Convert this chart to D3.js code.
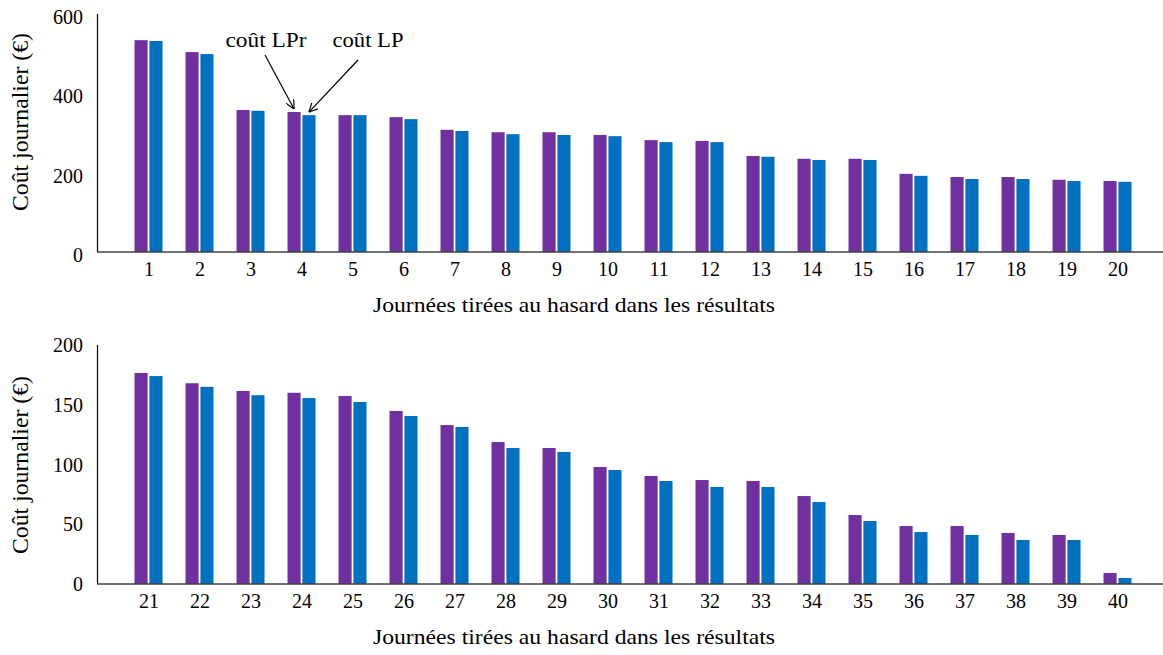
<!DOCTYPE html>
<html>
<head>
<meta charset="utf-8">
<script src="https://cdn.jsdelivr.net/npm/d3@7"></script>
<style>
  html, body { margin: 0; padding: 0; background: #fff; }
  svg { display: block; }
  text { font-family: "Liberation Serif", "Times New Roman", serif; fill: #000; }
</style>
</head>
<body>
<script>
// ---- DATA ----
const days1 = ["1","2","3","4","5","6","7","8","9","10","11","12","13","14","15","16","17","18","19","20"];
const lpr1 = [534, 504, 358, 353, 345, 340, 308, 302, 302, 295, 282, 280, 242, 235, 235, 197, 189, 189, 182, 179];
const lp1  = [532, 499, 356, 345, 345, 335, 305, 297, 295, 292, 277, 277, 240, 232, 232, 192, 184, 184, 179, 177];

const days2 = ["21","22","23","24","25","26","27","28","29","30","31","32","33","34","35","36","37","38","39","40"];
const lpr2 = [176.6, 168, 161.5, 160, 157.3, 144.8, 133, 118.8, 113.8, 97.9, 90.4, 87, 86.2, 73.6, 57.7, 48.5, 48.5, 42.7, 41, 9.2];
const lp2  = [174, 165, 158, 155.6, 152.3, 140.6, 131.4, 113.8, 110.5, 95.4, 86.2, 81.2, 81.2, 68.6, 52.7, 43.5, 41, 36.8, 36.8, 5];

const yTicks1 = [0, 200, 400, 600];
const yTicks2 = [0, 50, 100, 150, 200];

const seriesNames = ["coût LPr", "coût LP"];
const seriesColors = ["#7030A0", "#0070C0"];
const yTitle = "Coût journalier (€)";
const xTitle = "Journées tirées au hasard dans les résultats";

// ---- LAYOUT ----
const W = 1163, H = 655;
const FONT = '"Liberation Serif", "Times New Roman", serif';
const svg = d3.select("body").append("svg").attr("width", W).attr("height", H);

function drawPanel(cfg) {
  const g = svg.append("g");
  const x = d3.scaleBand().domain(cfg.days)
    .range([97, 97 + 51 * 21.04]).paddingOuter(0.52).paddingInner(0);
  const x1 = d3.scaleBand().domain(seriesNames).range([-14.5, 13.5]).paddingInner(0.12);
  const y = d3.scaleLinear().domain([0, cfg.yMax]).range([cfg.base, cfg.top]);

  const rows = cfg.days.map((d, i) => ({ day: d, vals: [cfg.lpr[i], cfg.lp[i]] }));
  const grp = g.selectAll("g.cat").data(rows).join("g")
    .attr("transform", d => `translate(${x(d.day) + x.bandwidth() / 2},0)`);
  grp.selectAll("rect").data(d => d.vals.map((v, k) => ({ k, v }))).join("rect")
    .attr("x", d => x1(seriesNames[d.k]))
    .attr("width", x1.bandwidth())
    .attr("y", d => y(d.v))
    .attr("height", d => y(0) - y(d.v))
    .attr("fill", d => seriesColors[d.k]);

  // y axis labels
  const ya = d3.axisLeft(y).tickValues(cfg.yTicks).tickSize(0).tickPadding(0);
  const yg = g.append("g").attr("transform", "translate(83,0)").call(ya);
  yg.select(".domain").remove();
  yg.selectAll("text").style("font-size", "20px").style("font-family", FONT)
    .attr("fill", "#000").attr("dy", cfg.yLabelDy);

  // x axis labels
  const xa = d3.axisBottom(x).tickSize(0).tickPadding(0);
  const xg = g.append("g").attr("transform", `translate(0,${cfg.base})`).call(xa);
  xg.select(".domain").remove();
  xg.selectAll("text").style("font-size", "20px").style("font-family", FONT)
    .attr("fill", "#000").attr("dy", 0).attr("y", 24);

  // axis lines
  g.append("line").attr("x1", 97.5).attr("x2", 97.5).attr("y1", cfg.top).attr("y2", cfg.base)
    .attr("stroke", "#000").attr("stroke-width", 1.2);
  g.append("line").attr("x1", 97).attr("x2", W).attr("y1", cfg.base).attr("y2", cfg.base)
    .attr("stroke", "#404040").attr("stroke-width", 1.6);

  // titles
  g.append("text").attr("x", 574).attr("y", cfg.base + 60).attr("text-anchor", "middle")
    .style("font-size", "21px").style("font-family", FONT)
    .attr("textLength", 402).attr("lengthAdjust", "spacingAndGlyphs").text(xTitle);
  g.append("text").attr("transform", `translate(28,${cfg.yTitleC}) rotate(-90)`).attr("text-anchor", "middle")
    .style("font-size", "23px").style("font-family", FONT)
    .attr("textLength", 178).attr("lengthAdjust", "spacingAndGlyphs").text(yTitle);

  return { x, x1, y, g };
}

const p1 = drawPanel({ days: days1, lpr: lpr1, lp: lp1, yMax: 600, yTicks: yTicks1, base: 252, top: 14, yLabelDy: "0.48em", yTitleC: 122 });
const p2 = drawPanel({ days: days2, lpr: lpr2, lp: lp2, yMax: 200, yTicks: yTicks2, base: 584, top: 345, yLabelDy: "0.33em", yTitleC: 465 });

// ---- ANNOTATIONS (pointing to day 4) ----
svg.append("defs").append("marker").attr("id", "arr").attr("viewBox", "0 0 10 10")
  .attr("refX", 10).attr("refY", 5).attr("markerWidth", 9).attr("markerHeight", 9)
  .attr("markerUnits", "userSpaceOnUse").attr("orient", "auto")
  .append("path").attr("d", "M0,0 L10,5 L0,10").attr("fill", "none").attr("stroke", "#000").attr("stroke-width", 1.3);

const annDay = "4";
const annIdx = days1.indexOf(annDay);
const annLabels = [
  { k: 0, tx: 266, ty: 47, sx: 265, sy: 55 },
  { k: 1, tx: 368, ty: 47, sx: 358, sy: 60 }
];
annLabels.forEach(a => {
  const val = a.k === 0 ? lpr1[annIdx] : lp1[annIdx];
  const cx = p1.x(annDay) + p1.x.bandwidth() / 2 + p1.x1(seriesNames[a.k]) + p1.x1.bandwidth() / 2;
  const cy = p1.y(val) - 3;
  svg.append("text").attr("x", a.tx).attr("y", a.ty).attr("text-anchor", "middle")
    .style("font-size", "22px").style("font-family", FONT)
    .attr("textLength", a.k === 0 ? 81 : 71).attr("lengthAdjust", "spacingAndGlyphs")
    .text(seriesNames[a.k]);
  svg.append("line").attr("x1", a.sx).attr("y1", a.sy).attr("x2", cx).attr("y2", cy)
    .attr("stroke", "#000").attr("stroke-width", 1.2).attr("marker-end", "url(#arr)");
});
</script>
</body>
</html>
